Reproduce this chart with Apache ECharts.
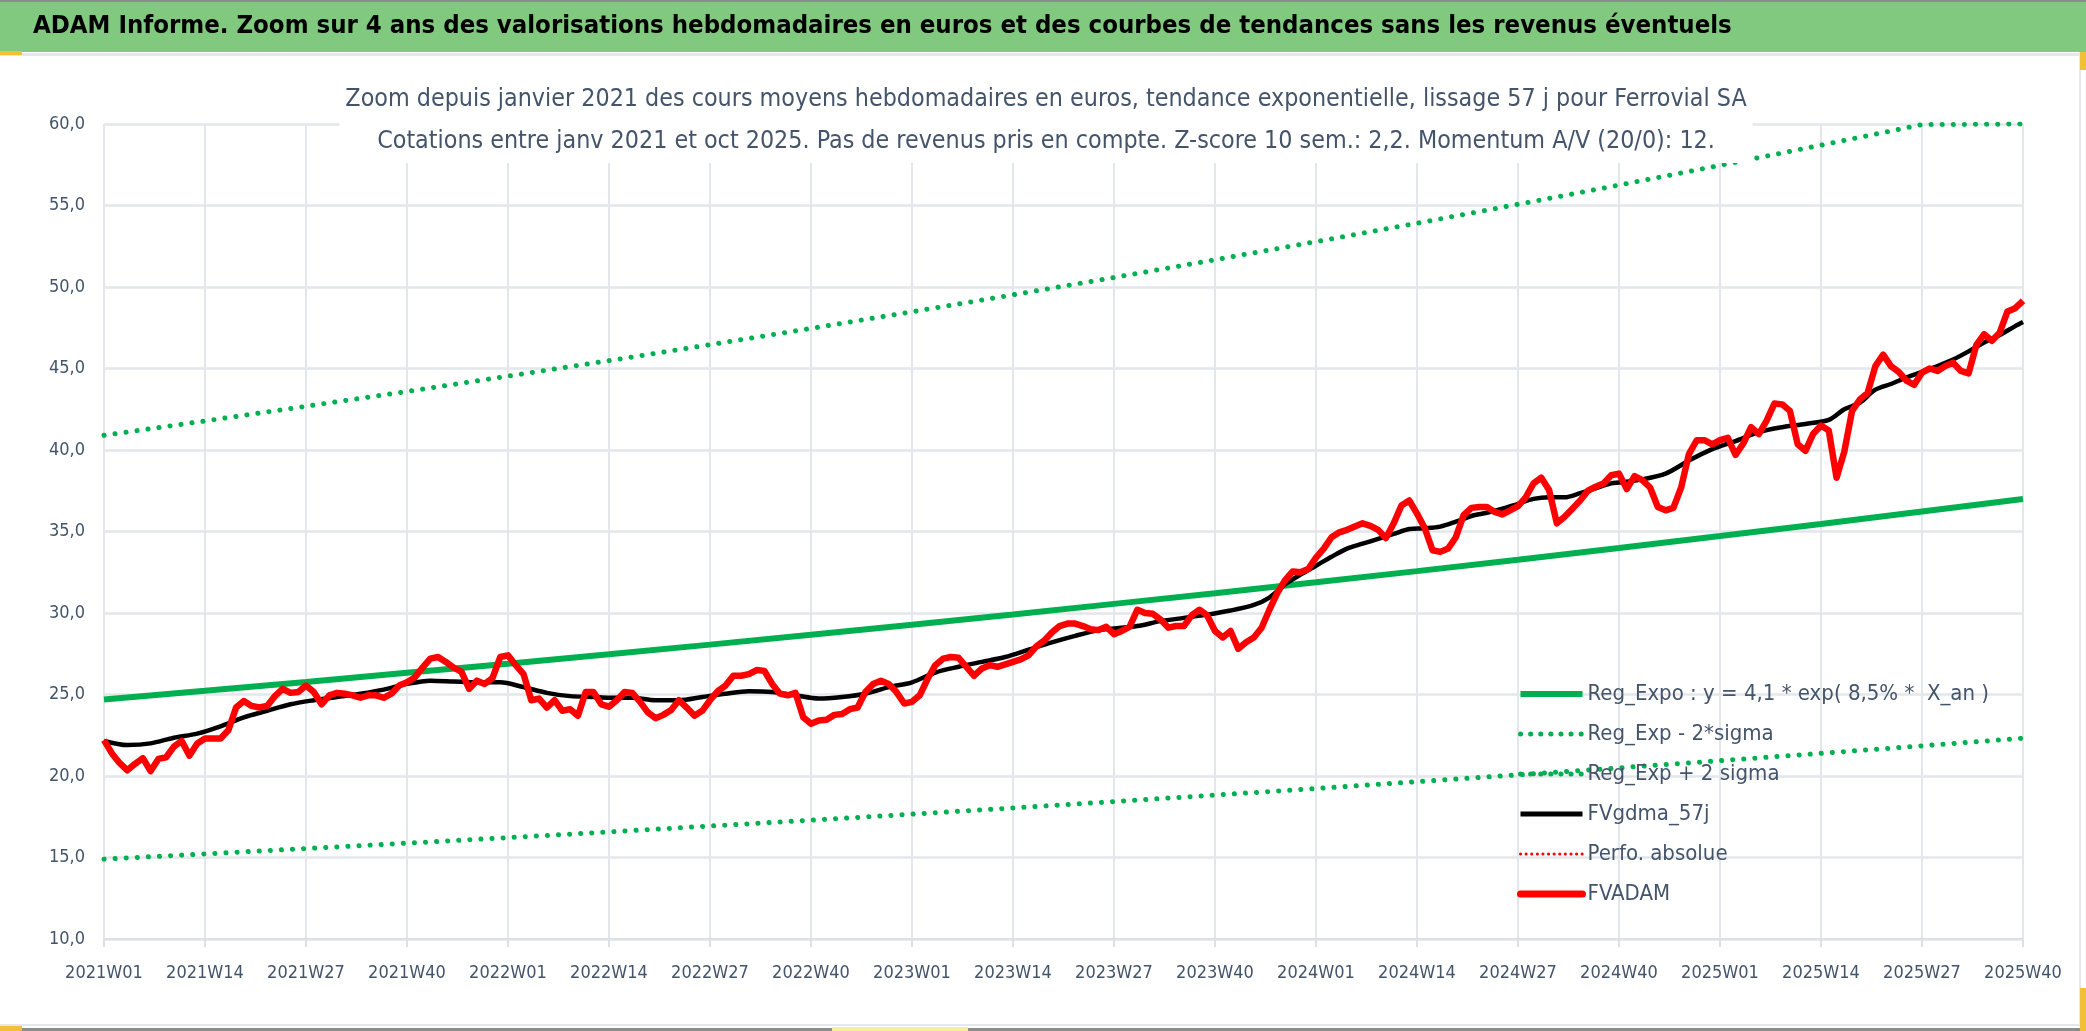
<!DOCTYPE html>
<html>
<head>
<meta charset="utf-8">
<script src="https://cdn.jsdelivr.net/npm/echarts@6/dist/echarts.min.js"></script>
<style>
html,body{margin:0;padding:0;background:#fff;}
#c{width:2086px;height:1031px;}
</style>
</head>
<body>
<div id="c"></div>
<script>
// ---- categories (ISO weeks 2021W01 .. 2025W40) ----
const years = [2021, 2022, 2023, 2024, 2025];
const lastWeek2025 = 40;
const weeks = [];
years.forEach(y => {
  const n = y === 2025 ? lastWeek2025 : 52;
  for (let w = 1; w <= n; w++) weeks.push(y + 'W' + (w < 10 ? '0' + w : w));
});

// ---- trend lines, read at each labelled week (every 13 weeks) ----
const trendWeeks = ['2021W01','2021W14','2021W27','2021W40','2022W01','2022W14','2022W27','2022W40','2023W01','2023W14','2023W27','2023W40','2024W01','2024W14','2024W27','2024W40','2025W01','2025W14','2025W27','2025W40'];
const regExpo = [24.70,25.23,25.77,26.33,26.89,27.47,28.06,28.67,29.28,29.91,30.56,31.21,31.88,32.57,33.27,33.99,34.72,35.46,36.23,37.00];
const regLow  = [14.90,15.22,15.55,15.88,16.22,16.57,16.93,17.29,17.66,18.04,18.43,18.83,19.23,19.65,20.07,20.50,20.94,21.39,21.85,22.32];
const regHigh = [40.90,41.78,42.68,43.59,44.53,45.48,46.46,47.46,48.48,49.52,50.58,51.67,52.78,53.91,55.07,56.25,57.46,58.70,59.96,60.00];

// ---- 57-day moving average, read at sampled weeks (index into weeks) ----
const maIdx = [0,3,6,9,12,15,18,21,24,27,30,33,36,39,42,45,48,51,54,57,60,63,65,68,71,74,77,80,83,86,89,92,95,98,101,104,107,110,113,116,119,122,125,128,130,133,136,139,142,145,148,150,152,154,156,158,160,162,164,166,168,170,172,174,176,178,180,182,184,186,188,190,192,194,195,198,201,204,207,210,213,216,219,222,224,226,228,230,232,234,236,238,240,242,244,246,247];
const maValues = [22.15,21.9,22.0,22.35,22.6,23.05,23.6,24.0,24.4,24.65,24.85,25.05,25.3,25.65,25.85,25.8,25.75,25.75,25.45,25.1,24.9,24.85,24.8,24.8,24.65,24.65,24.85,25.05,25.2,25.15,24.95,24.75,24.85,25.05,25.45,25.75,26.35,26.7,27.0,27.3,27.75,28.2,28.6,28.95,29.05,29.2,29.5,29.7,29.9,30.15,30.5,30.95,31.75,32.35,32.9,33.45,33.95,34.25,34.55,34.85,35.15,35.2,35.3,35.6,35.95,36.15,36.4,36.7,37.0,37.1,37.1,37.35,37.65,37.95,38.0,38.2,38.55,39.35,40.05,40.55,41.1,41.4,41.6,41.85,42.5,42.9,43.7,44.05,44.45,44.8,45.15,45.55,46.05,46.6,47.05,47.6,47.85];

// ---- weekly average price FVADAM (one value per week) ----
const fvadam = [
22.2,21.4,20.8,20.35,20.75,21.1,20.3,21.05,21.15,21.8,22.15,21.25,22.0,22.3,22.3,22.3,22.8,24.2,24.6,24.3,
24.2,24.3,24.9,25.35,25.1,25.15,25.55,25.15,24.4,24.95,25.1,25.05,24.95,24.8,24.95,24.95,24.8,25.05,25.55,25.75,
26.05,26.65,27.2,27.3,27.0,26.65,26.4,25.35,25.85,25.65,26.0,27.3,27.4,26.8,26.25,24.65,24.75,24.2,24.65,24.0,
24.1,23.7,25.15,25.15,24.4,24.25,24.65,25.15,25.1,24.55,23.9,23.55,23.75,24.05,24.65,24.2,23.7,24.0,24.65,25.2,
25.55,26.15,26.15,26.25,26.5,26.45,25.65,25.05,24.95,25.1,23.6,23.2,23.4,23.45,23.75,23.8,24.1,24.2,25.15,25.65,
25.85,25.65,25.15,24.45,24.55,24.95,25.95,26.8,27.2,27.3,27.25,26.7,26.15,26.6,26.8,26.7,26.85,27.0,27.15,27.4,
27.95,28.3,28.8,29.2,29.35,29.35,29.2,29.0,28.95,29.15,28.7,28.9,29.15,30.2,30.0,29.95,29.6,29.1,29.2,29.2,
29.85,30.2,29.85,28.9,28.5,28.9,27.8,28.2,28.5,29.1,30.2,31.2,32.0,32.55,32.5,32.7,33.4,33.95,34.65,34.95,
35.1,35.3,35.5,35.35,35.1,34.6,35.5,36.6,36.9,36.1,35.2,33.85,33.75,33.95,34.65,36.0,36.45,36.5,36.5,36.2,
36.05,36.3,36.55,37.1,37.95,38.3,37.55,35.5,35.9,36.4,36.9,37.5,37.75,37.95,38.45,38.55,37.6,38.4,38.15,37.7,
36.5,36.3,36.45,37.7,39.75,40.6,40.6,40.35,40.6,40.75,39.7,40.4,41.4,40.98,41.8,42.85,42.8,42.4,40.35,39.95,
41.0,41.5,41.2,38.3,39.9,42.4,43.1,43.5,45.15,45.85,45.15,44.8,44.25,44.0,44.75,45.0,44.85,45.15,45.35,44.85,
44.7,46.45,47.1,46.7,47.2,48.5,48.7,49.15];

// ---- texts ----
const mainTitle = 'ADAM Informe. Zoom sur 4 ans des valorisations hebdomadaires en euros et des courbes de tendances sans les revenus éventuels';
const subTitle = 'Zoom depuis janvier 2021 des cours moyens hebdomadaires en euros, tendance exponentielle, lissage 57 j pour Ferrovial SA\nCotations entre janv 2021 et oct 2025. Pas de revenus pris en compte. Z-score 10 sem.: 2,2. Momentum A/V (20/0): 12.';
const names = ['Reg_Expo : y = 4,1 * exp( 8,5% *  X_an )', 'Reg_Exp - 2*sigma', 'Reg_Exp + 2 sigma', 'FVgdma_57j', 'Perfo. absolue', 'FVADAM'];

const FONT = "'DejaVu Sans Condensed', 'DejaVu Sans', sans-serif";
const TXT = '#44546A';
const GREEN = '#00B050';
const RED = '#FF0000';
const pair = (cats, vals) => vals.map((v, i) => [cats[i], v]);
const dots = [0.1, 11];

const chart = echarts.init(document.getElementById('c'));
chart.setOption({
  animation: false,
  backgroundColor: '#fff',
  graphic: [
    { type: 'rect', shape: { x: 0, y: 0, width: 2086, height: 52 }, style: { fill: '#80C97F' }, z: 0 },
    { type: 'rect', shape: { x: 0, y: 0, width: 2086, height: 2 }, style: { fill: '#8C8C8C' }, z: 1 },
    { type: 'rect', shape: { x: 0, y: 53, width: 2086, height: 3 }, style: { fill: '#E4E7EB' }, z: 1 },
    { type: 'rect', shape: { x: 0, y: 1024, width: 2086, height: 2 }, style: { fill: '#E4E7EB' }, z: 1 },
    { type: 'rect', shape: { x: 0, y: 1028, width: 2086, height: 3 }, style: { fill: '#8C8C8C' }, z: 1 },
    { type: 'rect', shape: { x: 2079, y: 52, width: 2, height: 975 }, style: { fill: '#E4E7EB' }, z: 1 },
    { type: 'rect', shape: { x: 0, y: 51, width: 22, height: 4 }, style: { fill: '#F2C037' }, z: 2 },
    { type: 'rect', shape: { x: 2080, y: 52, width: 6, height: 18 }, style: { fill: '#F2C037' }, z: 2 },
    { type: 'rect', shape: { x: 2080, y: 988, width: 6, height: 43 }, style: { fill: '#F2C037' }, z: 2 },
    { type: 'rect', shape: { x: 0, y: 1026, width: 22, height: 5 }, style: { fill: '#F2C037' }, z: 2 },
    { type: 'rect', shape: { x: 832, y: 1027, width: 136, height: 4 }, style: { fill: '#F7EE9C' }, z: 2 }
  ],
  title: [
    {
      text: mainTitle, left: 33, top: 13,
      textStyle: { fontFamily: FONT, fontSize: 25.5, fontWeight: 'bold', color: '#000' },
      padding: 0
    },
    {
      text: subTitle, left: 1040, top: 70, textAlign: 'center',
      backgroundColor: '#fff',
      padding: [9, 6, 0, 6],
      textStyle: { fontFamily: FONT, fontSize: 24.8, fontWeight: 'normal', color: TXT, lineHeight: 42 }
    }
  ],
  legend: {
    orient: 'vertical', left: 1517, top: 683, padding: 0,
    itemWidth: 62, itemHeight: 14, itemGap: 18,
    itemStyle: { opacity: 0 },
    data: [
      { name: names[0], lineStyle: { width: 6, color: GREEN } },
      { name: names[1], lineStyle: { width: 5, color: GREEN, type: [0.1, 10], cap: 'round' } },
      { name: names[2], lineStyle: { width: 5, color: GREEN, type: [0.1, 10], cap: 'round' } },
      { name: names[3], lineStyle: { width: 5, color: '#000' } },
      { name: names[4], lineStyle: { width: 3, color: RED, type: [0.1, 5.5], cap: 'round' } },
      { name: names[5], lineStyle: { width: 7, color: RED, cap: 'round' } }
    ],
    textStyle: { fontFamily: FONT, fontSize: 22, color: TXT, lineHeight: 22 },
    selectedMode: false
  },
  grid: { left: 104, right: 63, top: 124, bottom: 92, containLabel: false },
  xAxis: {
    type: 'category', data: weeks, boundaryGap: false,
    axisLine: { lineStyle: { color: '#DDE1E6', width: 2 } },
    axisTick: { show: true, interval: 12, length: 8, lineStyle: { color: '#DDE1E6', width: 2 } },
    axisLabel: { interval: 12, margin: 25, fontFamily: FONT, fontSize: 18, color: TXT },
    splitLine: { show: true, interval: 12, lineStyle: { color: '#E3E6EA', width: 2 } }
  },
  yAxis: {
    type: 'value', min: 10, max: 60, interval: 5,
    axisLine: { show: false }, axisTick: { show: false },
    axisLabel: { margin: 19, fontFamily: FONT, fontSize: 18, color: TXT, formatter: v => v.toFixed(1).replace('.', ',') },
    splitLine: { lineStyle: { color: '#E3E6EA', width: 2.5 } }
  },
  series: [
    { name: names[0], type: 'line', symbol: 'none', data: pair(trendWeeks, regExpo), lineStyle: { color: GREEN, width: 6 }, itemStyle: { color: GREEN }, z: 2 },
    { name: names[1], type: 'line', symbol: 'none', data: pair(trendWeeks, regLow), lineStyle: { color: GREEN, width: 5, type: dots, cap: 'round' }, itemStyle: { color: GREEN }, z: 2 },
    { name: names[2], type: 'line', symbol: 'none', data: pair(trendWeeks, regHigh), lineStyle: { color: GREEN, width: 5, type: dots, cap: 'round' }, itemStyle: { color: GREEN }, z: 2 },
    { name: names[3], type: 'line', symbol: 'none', smooth: 0.3, data: maIdx.map((k, i) => [weeks[k], maValues[i]]), lineStyle: { color: '#000', width: 4.5 }, itemStyle: { color: '#000' }, z: 3 },
    { name: names[4], type: 'line', symbol: 'none', data: [], lineStyle: { color: RED, width: 3, type: [0.1, 6], cap: 'round' }, itemStyle: { color: RED }, z: 3 },
    { name: names[5], type: 'line', symbol: 'none', data: fvadam, lineStyle: { color: RED, width: 6.5, join: 'round' }, itemStyle: { color: RED }, z: 4 }
  ]
});
</script>
</body>
</html>
